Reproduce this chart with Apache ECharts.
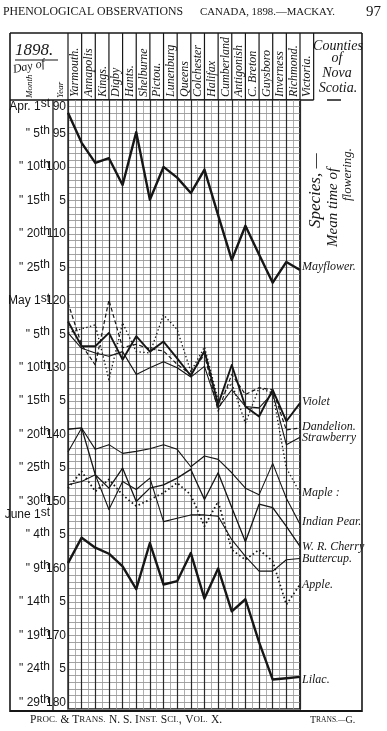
<!DOCTYPE html>
<html><head><meta charset="utf-8">
<script src="https://cdn.jsdelivr.net/npm/echarts@6/dist/echarts.min.js"></script>
<style>html,body{margin:0;padding:0;background:#fff}#c{width:387px;height:731px}</style>
</head><body><div id="c"></div>
<script>
// ---------- data ----------
const counties = ['Yarmouth.','Annapolis','Kings.','Digby','Hants.','Shelburne','Pictou.','Lunenburg','Queens','Colchester','Halifax','Cumberland','Antigonish','C. Breton','Guysboro','Inverness','Richmond.','Victoria.'];
const dayTickValues = [90,95,100,105,110,115,120,125,130,135,140,145,150,155,160,165,170,175,180];
const dayTickLabels = ['90','95','100','5','110','5','120','5','130','5','140','5','150','5','160','5','170','5','180'];
const monthTickValues = [90,95,100,105,110,115,120,125,130,135,140,145,150,152,155,160,165,170,175,180];
const monthTickLabels = ['Apr. 1st','" 5th','" 10th','" 15th','" 20th','" 25th','May 1st','" 5th','" 10th','" 15th','" 20th','" 25th','" 30th','June 1st','" 4th','" 9th','" 14th','" 19th','" 24th','" 29th'];
const speciesNames = ['Mayflower.','Violet','Dandelion.','Strawberry','Maple :','Indian Pear.','W. R. Cherry','Buttercup.','Apple.','Lilac.'];
const mayflower  = [91.9, 96.4, 99.4, 98.7, 102.7, 94.8, 104.9, 100, 101.6, 103.9, 100.4, 107.2, 113.9, 108.8, 113.1, 117.3, 114.2, 115.4];
const violet     = [123.1, 126.8, 126.8, 124.8, 128.8, 125.3, 127.6, 126.1, 128.6, 131.2, 127.5, 135.5, 129.6, 135.8, 137.3, 133.3, 138, 135.3];
const dandelion  = [120.3, 126.6, 129.6, 119.9, 127, 126.5, 127.2, 127.5, 129.5, 131, 128, 136.5, 131, 134, 133, 133.3, 139.3, 139];
const strawberry = [124.8, 127.1, 127.8, 128.3, 127.6, 131, 130, 129.1, 130, 131.4, 129.8, 136, 133.3, 135.8, 136, 133.8, 141.5, 140.4];
const maple      = [124.8, 124.2, 123.6, 131.8, 123.3, 127.6, 127.8, 122.1, 124.3, 130.6, 126.9, 134.8, 132.3, 138.3, 133, 133.8, 145, 148.7];
const indianPear = [142.6, 139, 142.2, 141.5, 142.8, 142.5, 142.1, 141.5, 142.2, 144.8, 143.2, 143.7, 145.7, 148, 149, 144.3, 149.5, 153.4];
const wrCherry   = [139.2, 139, 146, 148, 145, 150, 148, 147.5, 146.5, 145.2, 149.7, 145.7, 150.9, 156, 150.4, 150.9, 153.7, 156.7];
const buttercup  = [147.5, 147, 146, 151.2, 147, 148.2, 146.5, 153, 152.5, 152, 152, 152.2, 155.7, 158.2, 160.4, 160.4, 158.7, 158.5];
const apple      = [148, 145.5, 148.5, 146.7, 149, 150.7, 149.7, 148.7, 147.2, 149, 153.7, 150, 157.2, 158.7, 157.2, 158.9, 165.4, 162.4];
const lilac      = [159.2, 155.4, 156.9, 157.8, 159.7, 163.1, 156.2, 162.4, 161.9, 157.7, 164.5, 160, 166.4, 164.6, 171, 176.6, 176.4, 176.2];
const seriesValues = [mayflower, violet, dandelion, strawberry, maple, indianPear, wrCherry, buttercup, apple, lilac];

// ---------- styles ----------
const HAND = 'Liberation Serif';
const INK = '#161616';
const lineStyles = [
  {w:2.4, t:'solid', dy:-3}, {w:1.9, t:'solid', dy:-1}, {w:1.2, t:[4,2.5], dy:-1}, {w:1.1, t:'solid', dy:1},
  {w:1.3, t:[1.4,2.4], dy:0}, {w:1.1, t:'solid', dy:-2}, {w:1.3, t:'solid', dy:0}, {w:1.1, t:'solid', dy:0},
  {w:1.7, t:[1.6,2.6], dy:0}, {w:2.4, t:'solid', dy:3}
];
const GL = 68, GR = 300, GT = 100, GB = 709;
const colW = (GR - GL) / 17;

const chart = echarts.init(document.getElementById('c'), null, {renderer:'canvas'});

function supLabel(s, top){
  const m = s.match(/^(.*?)(\d+)(st|th)$/);
  const n = top ? 'tn' : 'n', sp = top ? 'ts' : 's';
  if(!m) return '{'+n+'|'+s+'}';
  return '{'+n+'|'+m[1]+m[2]+'}{'+sp+'|'+m[3]+'}';
}
const g = [];
function line(x1,y1,x2,y2,w,c){ g.push({type:'line', shape:{x1,y1,x2,y2}, style:{stroke:c||INK, lineWidth:w||1}, silent:true}); }
function text(x,y,t,font,opts){ g.push(Object.assign({type:'text', x, y, style:Object.assign({text:t, font, fill:INK, textAlign:'left', textVerticalAlign:'middle'}, (opts&&opts.style)||{}), silent:true}, (opts&&opts.el)||{})); }

// frame
line(10,33,362,33,1.6);
line(10,33,10,712,1.6);
line(362,33,362,712,1.6);
line(10,711,362,711,2.2);
line(53,GT,53,712,1.3);
line(10,GT,GL+18*colW,GT,1.4);
for(let i=0;i<=18;i++){ const x = GL+i*colW; line(x,33,x,GT,1.2); }
line(GR,GT,GR,712,1.2);
// county headers
counties.forEach((c,i)=>{
  text(GL+i*colW+colW/2+0.5, 97, c, 'italic 12px '+HAND, {el:{rotation:Math.PI/2}});
});
// header left
text(15, 51, '1898.', 'italic 17px '+HAND);
line(15,60,58,60,1.2);
text(13, 70, 'Day of', 'italic 12px '+HAND, {el:{rotation:0.2}});
text(30, 98, 'Month', 'italic 9px '+HAND, {el:{rotation:Math.PI/2}});
text(61, 98, 'Year', 'italic 9px '+HAND, {el:{rotation:Math.PI/2}});
// counties of nova scotia
text(338, 46, 'Counties', 'italic 14px '+HAND, {style:{textAlign:'center'}});
text(337, 58, 'of', 'italic 14px '+HAND, {style:{textAlign:'center'}});
text(337, 73, 'Nova', 'italic 14px '+HAND, {style:{textAlign:'center'}});
text(338, 88, 'Scotia.', 'italic 14px '+HAND, {style:{textAlign:'center'}});
line(327,100,341,100,1.5);
// species mean time
text(316, 228, 'Species, —', 'italic 17px '+HAND, {el:{rotation:Math.PI/2}});
text(333, 247, 'Mean time of', 'italic 15px '+HAND, {el:{rotation:Math.PI/2}});
text(348, 201, 'flowering.', 'italic 13px '+HAND, {el:{rotation:Math.PI/2}});
// title / footer
text(3, 12, 'PHENOLOGICAL OBSERVATIONS', '11.8px '+HAND);
text(200, 12, 'CANADA, 1898.—MACKAY.', '10.8px '+HAND);
text(381, 12, '97', '15px '+HAND, {style:{textAlign:'right'}});
g.push({type:'text', x:30, y:720, silent:true, style:{
  text:'{b|P}{s|ROC.} {b|& T}{s|RANS.} {b|N. S. I}{s|NST.} {b|S}{s|CI.}, {b|V}{s|OL.} {b|X.}',
  textVerticalAlign:'middle', fill:INK,
  rich:{b:{font:'11.5px '+HAND, fill:INK}, s:{font:'9px '+HAND, fill:INK}}}});
g.push({type:'text', x:310, y:720, silent:true, style:{
  text:'{b|T}{s|RANS.—}{b|G.}', textVerticalAlign:'middle', fill:INK,
  rich:{b:{font:'10px '+HAND, fill:INK}, s:{font:'7.5px '+HAND, fill:INK}}}});

const richLbl = {
  n:{font:'italic 12px '+HAND, color:INK},
  s:{font:'italic 8px '+HAND, color:INK, padding:[0,0,5,0]},
  t:{font:'italic 12px '+HAND, color:INK, padding:[13,0,0,0]},
  tn:{font:'italic bold 12px '+HAND, color:INK, padding:[13,0,0,0]},
  ts:{font:'italic 8px '+HAND, color:INK, padding:[8,0,0,0]}
};

const option = {
  animation:false,
  backgroundColor:'#fff',
  grid:{left:GL, right:387-GR, top:GT, bottom:731-GB, show:true, borderColor:INK, borderWidth:1.3},
  xAxis:{type:'value', min:0, max:17, interval:1,
    axisLine:{show:false}, axisTick:{show:false}, axisLabel:{show:false},
    splitLine:{show:true, lineStyle:{color:'#2a2a2a', width:1.2}},
    minorTick:{show:false, splitNumber:2},
    minorSplitLine:{show:true, lineStyle:{color:'#9a9a9a', width:0.8}}},
  yAxis:[
    {type:'value', inverse:true, min:90, max:181, interval:1, position:'left',
     axisLine:{show:false}, axisTick:{show:false},
     splitLine:{show:true, lineStyle:{color:'#8c8c8c', width:0.8}},
     axisLabel:{margin:2, showMaxLabel:false, rich:richLbl,
       formatter:(v)=>{ const k = dayTickValues.indexOf(v); if(k<0) return ''; return v===90 ? '{t|'+dayTickLabels[k]+'}' : '{n|'+dayTickLabels[k]+'}'; }}},
    {type:'value', inverse:true, min:90, max:181, interval:1, position:'left', offset:16,
     axisLine:{show:false}, axisTick:{show:false}, splitLine:{show:false},
     axisLabel:{margin:2, showMaxLabel:false, rich:richLbl,
       formatter:(v)=>{ const k = monthTickValues.indexOf(v); if(k<0) return ''; return supLabel(monthTickLabels[k], v===90); }}}
  ],
  graphic:{elements:g},
  series: seriesValues.map((arr,k)=>({
    type:'line', name:speciesNames[k], xAxisIndex:0, yAxisIndex:0,
    data: arr.map((v,i)=>[i,v]), symbol:'none', silent:true,
    lineStyle:{color:INK, width:lineStyles[k].w, type:lineStyles[k].t, join:'round'},
    endLabel:{show:true, formatter:speciesNames[k], color:INK, distance:2, offset:[0,lineStyles[k].dy],
      fontFamily:HAND, fontStyle:'italic', fontSize:12}
  }))
};
chart.setOption(option);
</script></body></html>
